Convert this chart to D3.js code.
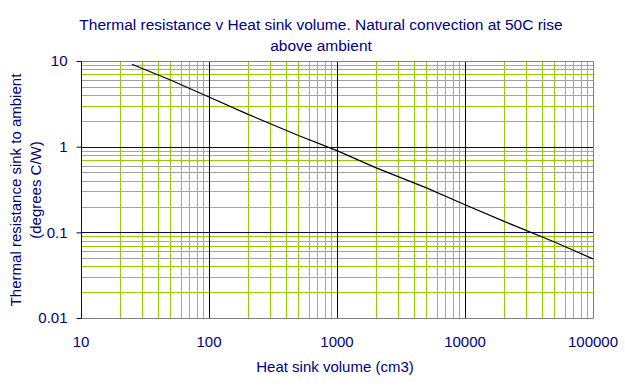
<!DOCTYPE html>
<html>
<head>
<meta charset="utf-8">
<script src="https://cdn.jsdelivr.net/npm/d3@7"></script>
<style>
  body { margin: 0; background: #fff; }
  text { font-family: "Liberation Sans", Arial, sans-serif; fill: #000080; }
</style>
</head>
<body>
<svg id="vis" width="625" height="389"></svg>
<script>
var vis = d3.select("#vis");

// curve
var volume = [25, 50, 100, 200, 500, 1000, 2000, 5000, 10000, 20000, 50000, 100000];
var resistance = [9.15, 6.0, 3.8, 2.4, 1.35, 0.9, 0.57, 0.33, 0.21, 0.135, 0.077, 0.049];

var xTicks = [10, 100, 1000, 10000, 100000];
var yTicks = [0.01, 0.1, 1, 10];
var minorSteps = [2, 3, 4, 5, 6, 7, 8, 9];

var title = ["Thermal resistance v Heat sink volume. Natural convection at 50C rise", "above ambient"];
var xTitle = "Heat sink volume (cm3)";
var yTitle = ["Thermal resistance sink to ambient", "(degrees C/W)"];

// plot box (note: "top" is taken by window.top)
var plotL = 81, plotR = 593, plotT = 61, plotB = 318;
var green = "#99cc00", navy = "#000080", grey = "#808080";

var x = d3.scaleLog().domain([10, 100000]).range([plotL, plotR]);
var y = d3.scaleLog().domain([0.01, 10]).range([plotB, plotT]);

// minor values per decade
function minors(ticks) {
    var out = [];
    ticks.slice(0, -1).forEach(t => minorSteps.forEach(s => out.push({v: t * s, s: s})));
    return out;
}

var px = v => Math.round(v) + 0.5;

// vertical grid
vis.selectAll(".vminor").data(minors(xTicks)).enter().append("line")
    .attr("x1", d => px(x(d.v))).attr("x2", d => px(x(d.v)))
    .attr("y1", plotT).attr("y2", plotB)
    .attr("stroke", green).attr("stroke-width", 1);

// horizontal grid
vis.selectAll(".hminor").data(minors(yTicks)).enter().append("line")
    .attr("y1", d => px(y(d.v))).attr("y2", d => px(y(d.v)))
    .attr("x1", plotL).attr("x2", plotR)
    .attr("stroke", d => (d.s == 5 || d.s == 6) ? "#a0a0a0" : green).attr("stroke-width", 1);

vis.selectAll(".vmajor").data(xTicks.slice(1, -1)).enter().append("line")
    .attr("x1", d => px(x(d))).attr("x2", d => px(x(d)))
    .attr("y1", plotT).attr("y2", plotB)
    .attr("stroke", "black");

vis.selectAll(".hmajor").data(yTicks.slice(1, -1)).enter().append("line")
    .attr("y1", d => px(y(d))).attr("y2", d => px(y(d)))
    .attr("x1", plotL).attr("x2", plotR)
    .attr("stroke", navy);

// frame
vis.append("path")
    .attr("d", `M${px(plotL)},${px(plotT)}H${px(plotR)}V${px(plotB)}H${px(plotL)}`)
    .attr("fill", "none").attr("stroke", grey);

// y axis
var yAxis = vis.append("g")
    .attr("transform", `translate(${px(plotL)},0)`)
    .call(d3.axisLeft(y).tickValues(yTicks).tickFormat(d => String(d)).tickSize(5).tickPadding(9));
yAxis.selectAll("path, line").attr("stroke", navy);
yAxis.select(".domain").attr("d", `M0,${px(plotT)}V${px(plotB)}`);
yAxis.selectAll("text").attr("font-size", 15).attr("fill", navy)
    .style("font-family", '"Liberation Sans", Arial, sans-serif');

// x labels
vis.selectAll(".xlab").data(xTicks).enter().append("text")
    .attr("x", d => x(d)).attr("y", 347)
    .attr("text-anchor", "middle").attr("font-size", 15)
    .text(d => d);

// the curve
var line = d3.line().x((d, i) => x(volume[i])).y(d => y(d));
vis.append("path")
    .datum(resistance)
    .attr("d", line)
    .attr("fill", "none").attr("stroke", "black").attr("stroke-width", 1.2);

// titles
vis.selectAll(".title").data(title).enter().append("text")
    .attr("x", 321).attr("y", (d, i) => 30 + i * 21)
    .attr("text-anchor", "middle").attr("font-size", 15.5)
    .text(d => d);

vis.append("text")
    .attr("x", 335).attr("y", 372)
    .attr("text-anchor", "middle").attr("font-size", 15)
    .text(xTitle);

vis.selectAll(".ytitle").data(yTitle).enter().append("text")
    .attr("transform", (d, i) => `translate(${21 + i * 20},190) rotate(-90)`)
    .attr("text-anchor", "middle").attr("font-size", 15)
    .text(d => d);
</script>
</body>
</html>
